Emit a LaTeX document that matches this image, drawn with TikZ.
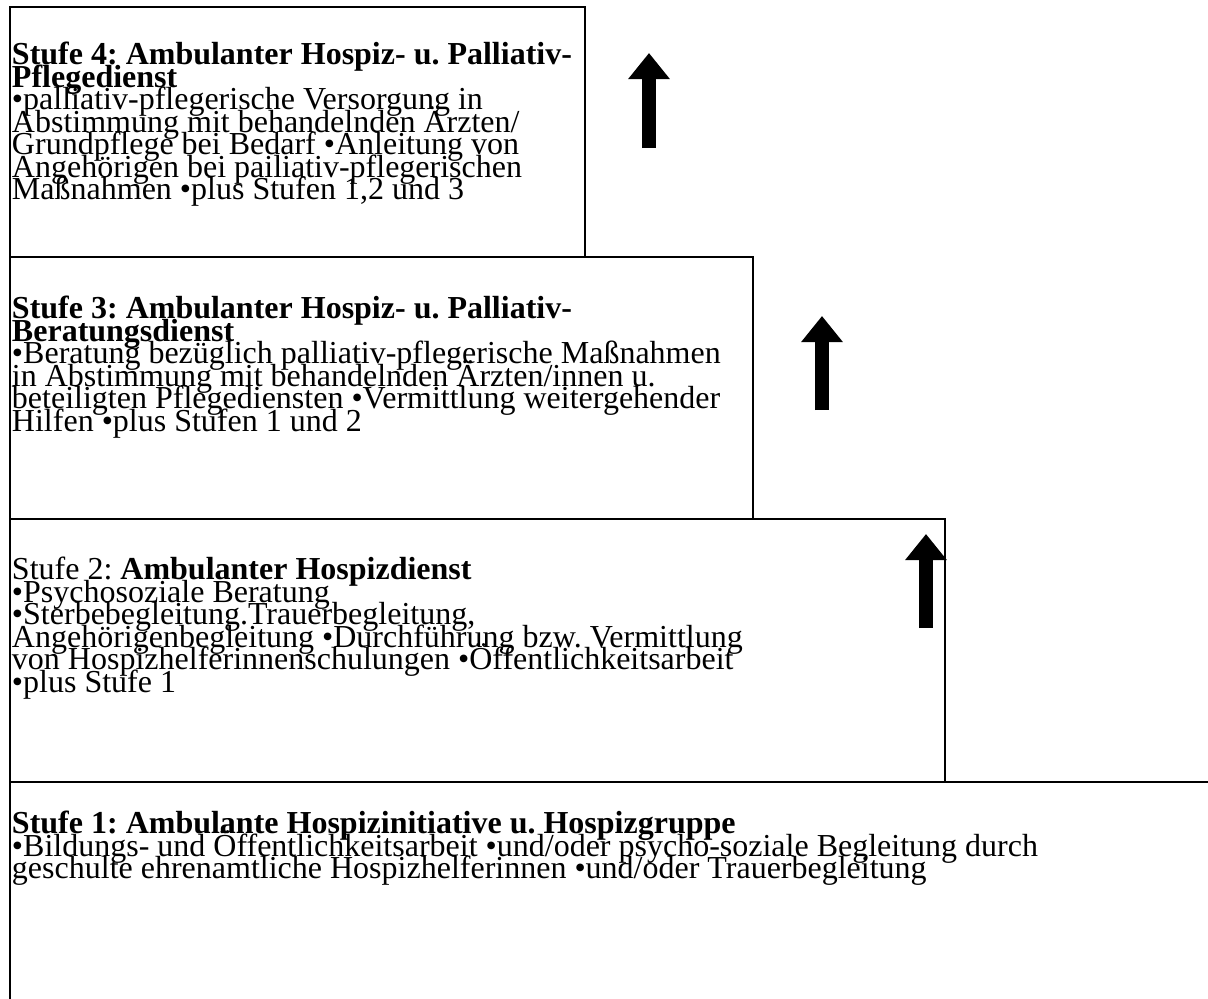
\documentclass[tikz,border=0pt]{standalone}
\usepackage{fontspec}
\setmainfont{Liberation Serif}
\usepackage{tikz}
\usetikzlibrary{arrows.meta}

\frenchspacing
\newcommand{\stufefont}{\fontsize{32}{22.5}\selectfont\lineskiplimit=-100pt\relax}

\begin{document}
\begin{tikzpicture}[x=1pt,y=-1pt,line width=2pt,
				stufe text/.style={anchor=north west,inner sep=0pt,align=left,font=\stufefont},
				up arrow/.style={line width=14pt,-{Triangle[width=40pt,length=26pt]}}]
				
				\useasboundingbox (0,0) rectangle (1208,999);
				
				% steps
				\draw (10,7) rectangle (585,257);
				\draw (10,257) rectangle (753,519);
				\draw (10,519) rectangle (945,782);
				\draw (1208,782) -- (10,782) -- (10,999);
				
				\node[stufe text] (s4) at (11,41) {\textbf{Stufe 4: Ambulanter Hospiz- u. Palliativ-}\\
					\textbf{Pflegedienst}\\
					•palliativ-pflegerische Versorgung in\\
					Abstimmung mit behandelnden Ärzten/\\
					Grundpflege bei Bedarf •Anleitung von\\
					Angehörigen bei pailiativ-pflegerischen\\
					Maßnahmen •plus Stufen 1,2 und 3};
				
				\node[stufe text] (s3) at (11,295) {\textbf{Stufe 3: Ambulanter Hospiz- u. Palliativ-}\\
					\textbf{Beratungsdienst}\\
					•Beratung bezüglich palliativ-pflegerische Maßnahmen\\
					in Abstimmung mit behandelnden Ärzten/innen u.\\
					beteiligten Pflegediensten •Vermittlung weitergehender\\
					Hilfen •plus Stufen 1 und 2};
				
				\node[stufe text] (s2) at (11,556) {Stufe 2: \textbf{Ambulanter Hospizdienst}\\
					•Psychosoziale Beratung\\
					•Sterbebegleitung.Trauerbegleitung,\\
					Angehörigenbegleitung •Durchführung bzw. Vermittlung\\
					von Hospizhelferinnenschulungen •Öffentlichkeitsarbeit\\
					•plus Stufe 1};
				
				\node[stufe text] (s1) at (11,810) {\textbf{Stufe 1: Ambulante Hospizinitiative u. Hospizgruppe}\\
					•Bildungs- und Öffentlichkeitsarbeit •und/oder psycho-soziale Begleitung durch\\
					geschulte ehrenamtliche Hospizhelferinnen •und/oder Trauerbegleitung};
				
				% arrows
				\coordinate (a4 foot) at (649,148);
				\coordinate (a4 tip) at (649,53);
				\coordinate (a3 foot) at (822,410);
				\coordinate (a3 tip) at (822,316);
				\coordinate (a2 foot) at (926,628);
				\coordinate (a2 tip) at (926,534);
				
				\draw[up arrow] (a4 foot) -- (a4 tip);
				\draw[up arrow] (a3 foot) -- (a3 tip);
				\draw[up arrow] (a2 foot) -- (a2 tip);
				
\end{tikzpicture}
\end{document}
